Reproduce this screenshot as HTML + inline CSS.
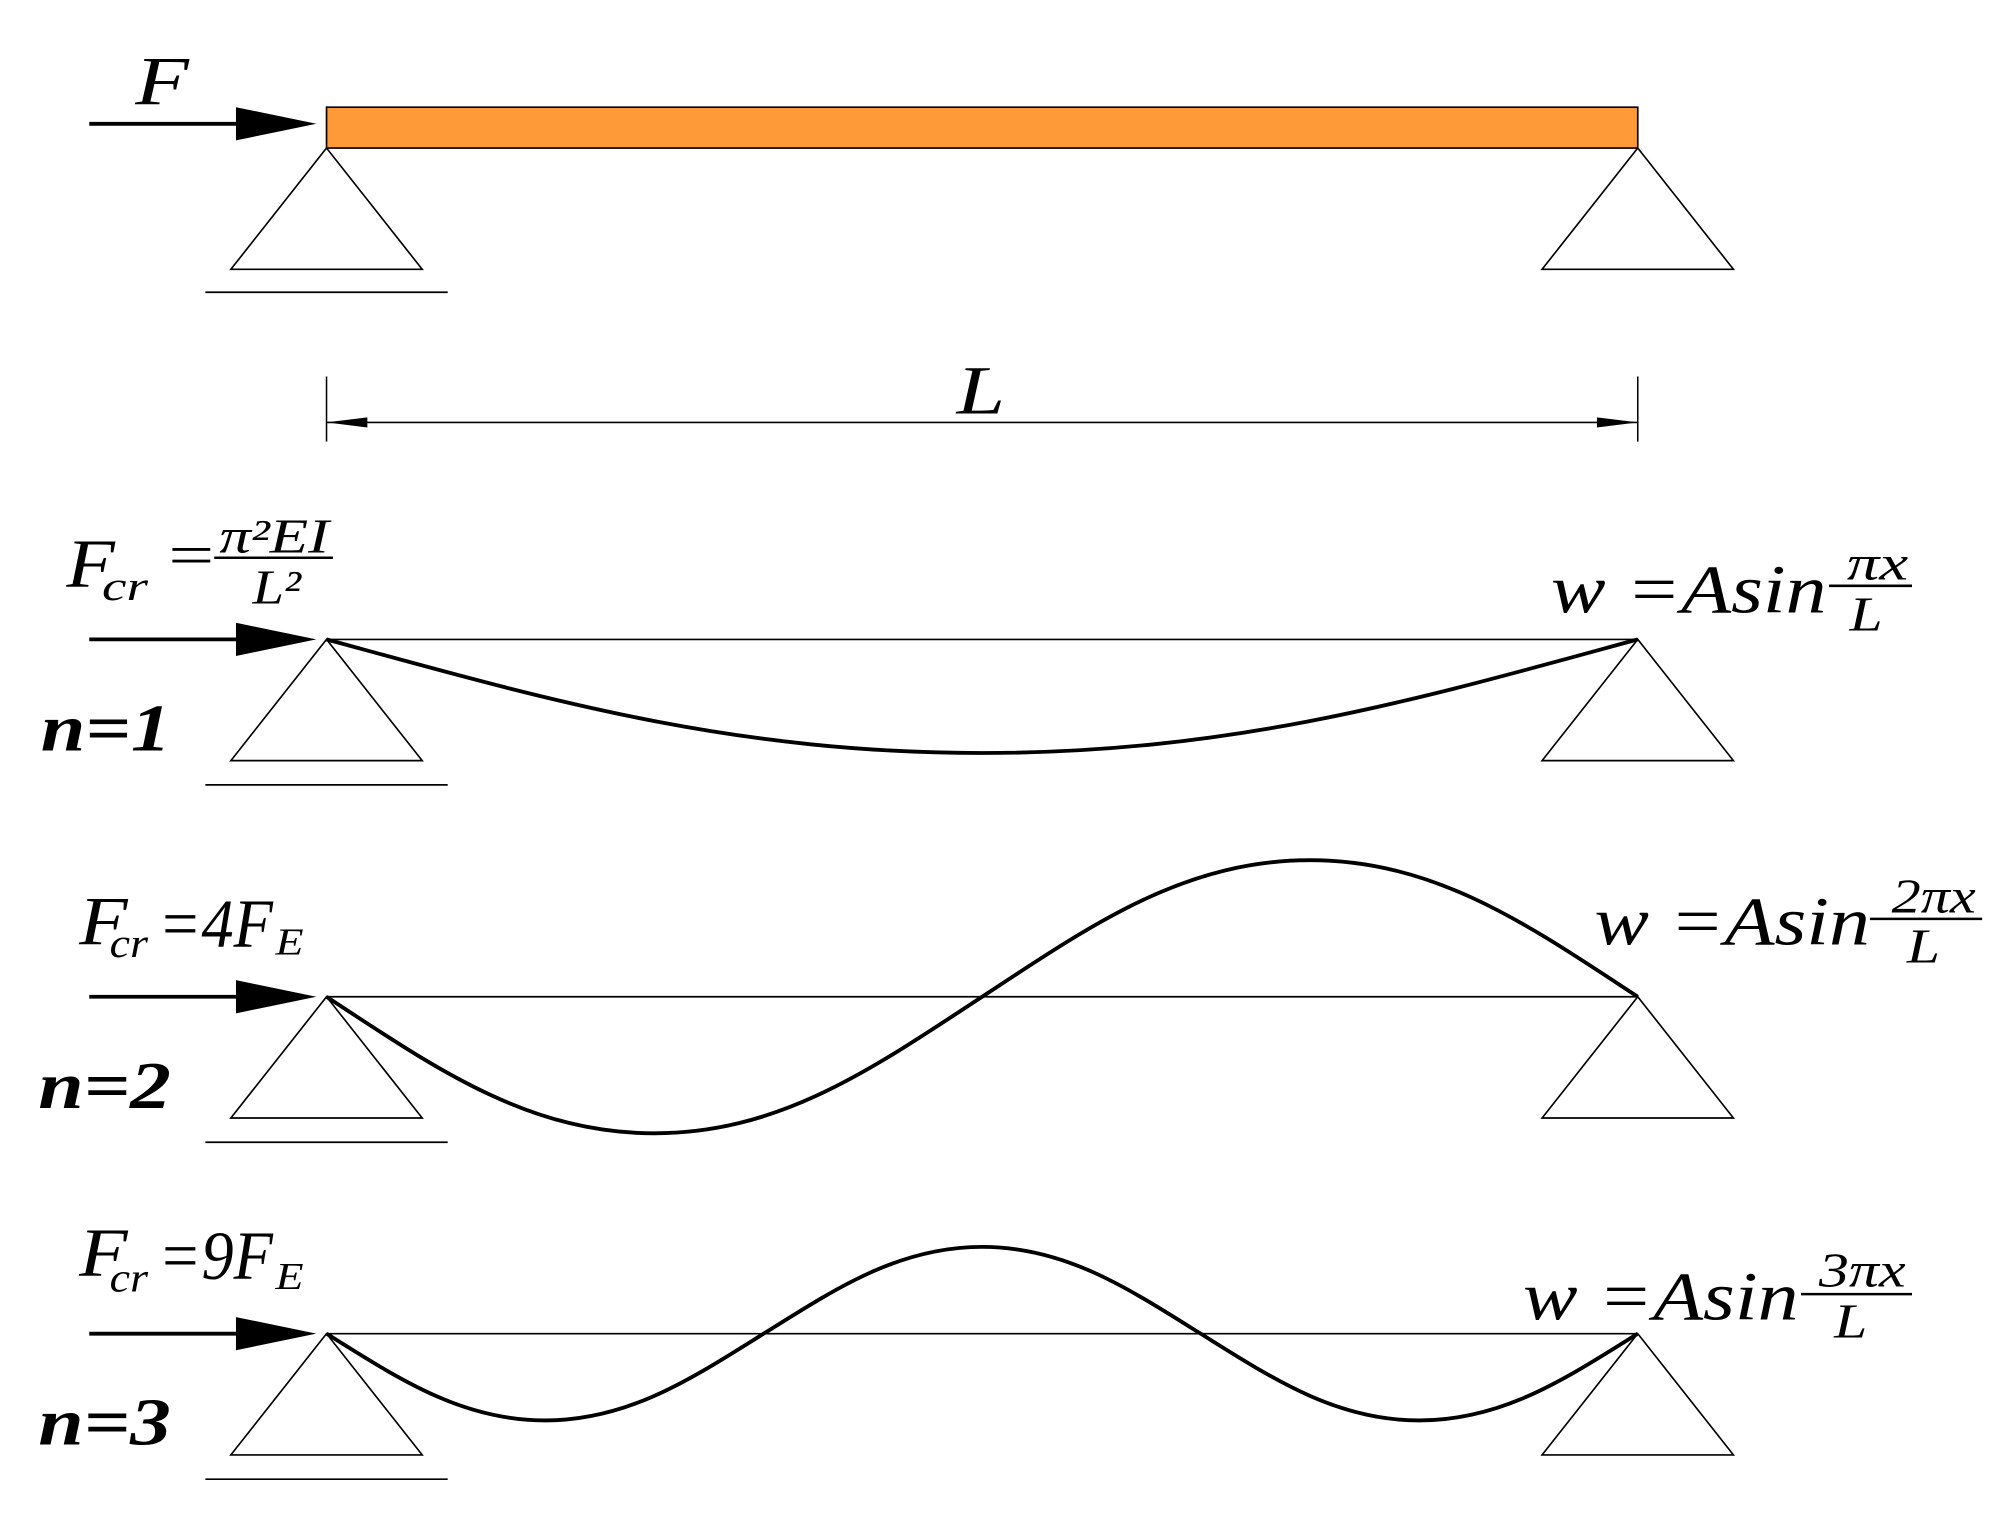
<!DOCTYPE html>
<html><head><meta charset="utf-8"><style>html,body{margin:0;padding:0;background:#fff}svg{display:block}text{font-family:"Liberation Serif",serif;font-style:italic}</style></head>
<body>
<svg width="2000" height="1520" viewBox="0 0 1568 1191" preserveAspectRatio="none" xmlns="http://www.w3.org/2000/svg">
<defs>
<g id="sup"><polygon points="0,0 -75,95 75,95" fill="none" stroke="#000" stroke-width="1.3"/></g>
<g id="arr"><line x1="70" y1="0" x2="190" y2="0" stroke="#000" stroke-width="3"/><polygon points="185,-13 248,0 185,13" fill="#000"/></g>
</defs>
<!-- top -->
<use href="#arr" x="0" y="97"/>
<rect x="256" y="84" width="1028" height="32" fill="#FF9A38" stroke="#000" stroke-width="1.3"/>
<use href="#sup" x="256" y="116"/><use href="#sup" x="1284" y="116"/>
<line x1="161" y1="229" x2="351" y2="229" stroke="#000" stroke-width="1.3"/>
<text x="106" y="82" font-size="54" textLength="42" lengthAdjust="spacingAndGlyphs">F</text>
<!-- dimension -->
<line x1="256" y1="295" x2="256" y2="346" stroke="#000" stroke-width="1.2"/>
<line x1="1284" y1="295" x2="1284" y2="346" stroke="#000" stroke-width="1.2"/>
<line x1="256" y1="331" x2="1284" y2="331" stroke="#000" stroke-width="1.2"/>
<polygon points="256,331 288,327 288,335" fill="#000"/>
<polygon points="1284,331 1252,327 1252,335" fill="#000"/>
<text x="750" y="324" font-size="54" textLength="38" lengthAdjust="spacingAndGlyphs">L</text>

<!-- row 1 -->
<use href="#arr" x="0" y="501"/>
<line x1="256" y1="501" x2="1284" y2="501" stroke="#000" stroke-width="1.3"/>
<use href="#sup" x="256" y="501"/><use href="#sup" x="1284" y="501"/>
<line x1="161" y1="615" x2="351" y2="615" stroke="#000" stroke-width="1.3"/>
<path d="M256,501 C423,546.5 570,590 770,590 C970,590 1117,546.5 1284,501" fill="none" stroke="#000" stroke-width="3"/>
<text x="32" y="588" font-size="52" font-weight="bold" textLength="102" lengthAdjust="spacingAndGlyphs">n=1</text>
<text x="52" y="460" font-size="54" textLength="38" lengthAdjust="spacingAndGlyphs">F</text>
<text x="80" y="470" font-size="32" textLength="36" lengthAdjust="spacingAndGlyphs">cr</text>
<text x="132" y="450" font-size="46" style="font-style:normal" textLength="36" lengthAdjust="spacingAndGlyphs">=</text>
<text x="172" y="433" font-size="38" textLength="86" lengthAdjust="spacingAndGlyphs">π²EI</text>
<line x1="168" y1="437" x2="261" y2="437" stroke="#000" stroke-width="2"/>
<text x="198" y="473" font-size="38" textLength="38" lengthAdjust="spacingAndGlyphs">L²</text>
<text x="1216" y="480" font-size="54" textLength="216" lengthAdjust="spacingAndGlyphs">w =Asin</text>
<text x="1448" y="454" font-size="38" textLength="48" lengthAdjust="spacingAndGlyphs">πx</text>
<line x1="1434" y1="459" x2="1499" y2="459" stroke="#000" stroke-width="2"/>
<text x="1450" y="494" font-size="38" textLength="26" lengthAdjust="spacingAndGlyphs">L</text>

<!-- row 2 -->
<use href="#arr" x="0" y="781"/>
<line x1="256" y1="781" x2="1284" y2="781" stroke="#000" stroke-width="1.3"/>
<use href="#sup" x="256" y="781"/><use href="#sup" x="1284" y="781"/>
<line x1="161" y1="895" x2="351" y2="895" stroke="#000" stroke-width="1.3"/>
<path d="M256,781 C339.6,835.7 413,888 513,888 C613,888 686.4,835.7 770,781 C853.6,726.3 927,674 1027,674 C1127,674 1200.4,726.3 1284,781" fill="none" stroke="#000" stroke-width="3"/>
<text x="30" y="868" font-size="52" font-weight="bold" textLength="104" lengthAdjust="spacingAndGlyphs">n=2</text>
<text x="62" y="740" font-size="54" textLength="38" lengthAdjust="spacingAndGlyphs">F</text>
<text x="86" y="750" font-size="32" textLength="30" lengthAdjust="spacingAndGlyphs">cr</text>
<text x="124" y="742" font-size="54" textLength="90" lengthAdjust="spacingAndGlyphs">=4F</text>
<text x="216" y="748" font-size="30" textLength="22" lengthAdjust="spacingAndGlyphs">E</text>
<text x="1250" y="740" font-size="54" textLength="216" lengthAdjust="spacingAndGlyphs">w =Asin</text>
<text x="1483" y="715" font-size="38" textLength="66" lengthAdjust="spacingAndGlyphs">2πx</text>
<line x1="1466" y1="720" x2="1554" y2="720" stroke="#000" stroke-width="2"/>
<text x="1495" y="754" font-size="38" textLength="26" lengthAdjust="spacingAndGlyphs">L</text>

<!-- row 3 -->
<use href="#arr" x="0" y="1045"/>
<line x1="256" y1="1045" x2="1284" y2="1045" stroke="#000" stroke-width="1.3"/>
<use href="#sup" x="256" y="1045"/><use href="#sup" x="1284" y="1045"/>
<line x1="161" y1="1159" x2="351" y2="1159" stroke="#000" stroke-width="1.3"/>
<path d="M256,1045 C311.7,1079.7 361.3,1113 427.3,1113 C493.3,1113 543,1079.7 598.7,1045 C654.4,1010.3 704,977 770,977 C836,977 885.6,1010.3 941.3,1045 C997,1079.7 1046.7,1113 1112.7,1113 C1178.7,1113 1228.3,1079.7 1284,1045" fill="none" stroke="#000" stroke-width="3"/>
<text x="30" y="1132" font-size="52" font-weight="bold" textLength="104" lengthAdjust="spacingAndGlyphs">n=3</text>
<text x="62" y="1000" font-size="54" textLength="38" lengthAdjust="spacingAndGlyphs">F</text>
<text x="86" y="1012" font-size="32" textLength="30" lengthAdjust="spacingAndGlyphs">cr</text>
<text x="124" y="1002" font-size="54" textLength="90" lengthAdjust="spacingAndGlyphs">=9F</text>
<text x="216" y="1010" font-size="30" textLength="22" lengthAdjust="spacingAndGlyphs">E</text>
<text x="1194" y="1034" font-size="54" textLength="216" lengthAdjust="spacingAndGlyphs">w =Asin</text>
<text x="1426" y="1008" font-size="38" textLength="68" lengthAdjust="spacingAndGlyphs">3πx</text>
<line x1="1412" y1="1014" x2="1499" y2="1014" stroke="#000" stroke-width="2"/>
<text x="1438" y="1048" font-size="38" textLength="26" lengthAdjust="spacingAndGlyphs">L</text>
</svg>
</body></html>
